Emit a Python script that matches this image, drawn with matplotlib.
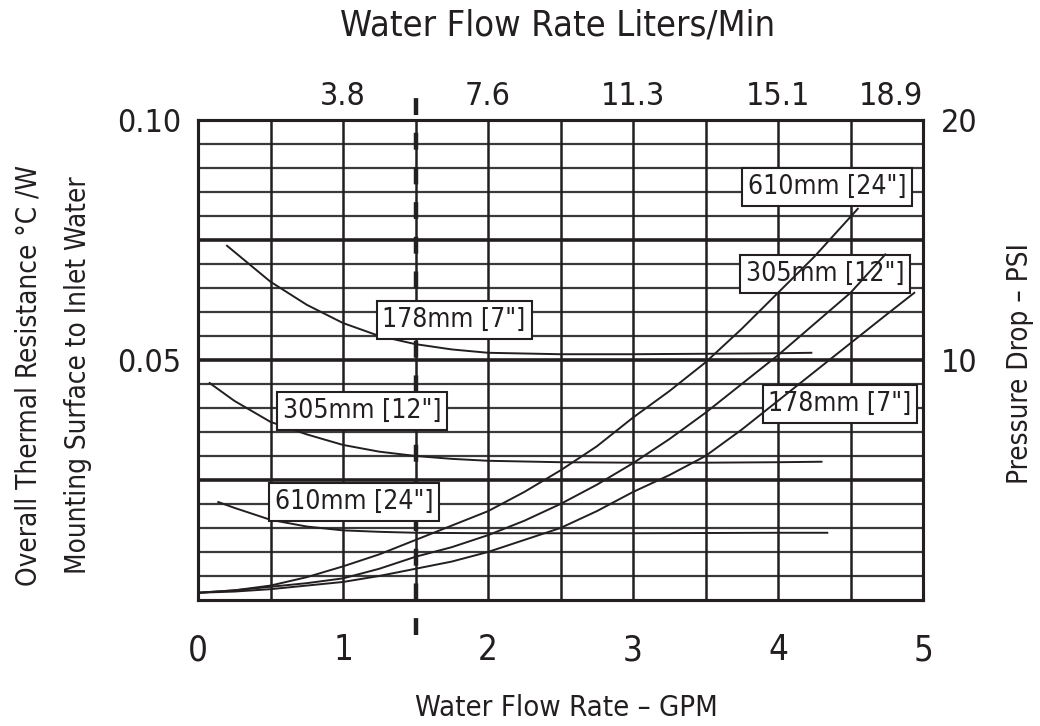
import matplotlib.pyplot as plt
import matplotlib.transforms as mtransforms

plt.rcParams["font.family"] = ["DejaVu Sans"]
plt.rcParams["font.stretch"] = "condensed"
INK = "#231f20"

# Thermal resistance curves (left axis, degC/W) vs flow (GPM)
r178_gpm = [0.2, 0.5, 0.75, 1.0, 1.25, 1.5, 1.75, 2.0, 2.5, 3.0, 3.5, 4.0, 4.23]
r178_val = [0.0738, 0.0663, 0.0615, 0.0577, 0.0550, 0.0533, 0.0522, 0.0515,
            0.0512, 0.0512, 0.0513, 0.0514, 0.0515]
r305_gpm = [0.08, 0.25, 0.5, 0.75, 1.0, 1.25, 1.5, 1.75, 2.0, 2.5, 3.0, 3.5, 4.0, 4.3]
r305_val = [0.0452, 0.0415, 0.0371, 0.0345, 0.0323, 0.0309, 0.0300, 0.0294,
            0.0290, 0.0287, 0.0286, 0.0286, 0.0287, 0.0288]
r610_gpm = [0.14, 0.25, 0.5, 0.75, 1.0, 1.25, 1.5, 2.0, 3.0, 4.0, 4.34]
r610_val = [0.0204, 0.0192, 0.0167, 0.0153, 0.0145, 0.0142, 0.0140, 0.0139,
            0.0139, 0.0140, 0.0140]

# Pressure drop curves (right axis, PSI) vs flow (GPM)
p610_gpm = [0, 0.25, 0.5, 0.75, 1.0, 1.25, 1.5, 1.75, 2.0, 2.25, 2.5, 2.75,
            3.0, 3.25, 3.5, 3.75, 4.0, 4.25, 4.55]
p610_val = [0.3, 0.4, 0.6, 0.95, 1.4, 1.9, 2.5, 3.1, 3.7, 4.5, 5.4, 6.4,
            7.6, 8.7, 9.9, 11.3, 12.8, 14.3, 16.3]
p305_gpm = [0, 0.25, 0.5, 0.75, 1.0, 1.25, 1.5, 1.75, 2.0, 2.25, 2.5, 2.75,
            3.0, 3.25, 3.5, 3.75, 4.0, 4.25, 4.5, 4.74]
p305_val = [0.3, 0.4, 0.55, 0.7, 0.9, 1.3, 1.8, 2.2, 2.7, 3.3, 4.0, 4.8,
            5.7, 6.7, 7.8, 9.0, 10.2, 11.5, 12.8, 14.4]
p178_gpm = [0, 0.25, 0.5, 0.75, 1.0, 1.25, 1.5, 1.75, 2.0, 2.25, 2.5, 2.75,
            3.0, 3.25, 3.5, 3.75, 4.0, 4.25, 4.5, 4.75, 4.94]
p178_val = [0.3, 0.35, 0.45, 0.6, 0.75, 1.0, 1.3, 1.6, 2.0, 2.5, 3.0, 3.7,
            4.5, 5.2, 6.0, 7.1, 8.3, 9.5, 10.7, 11.9, 12.8]

gpm_ticks = [0, 1, 2, 3, 4, 5]
lpm_labels = ["3.8", "7.6", "11.3", "15.1", "18.9"]
marked_flow = 1.5

fig = plt.figure(figsize=(10.4, 7.26), dpi=100)
ax = fig.add_axes([0.1904, 0.1736, 0.6971, 0.6611])
ax.set_xlim(0, 5)
ax.set_ylim(0, 0.10)
ax2 = ax.twinx()
ax2.set_ylim(0, 20)

# grid
for i in range(1, 20):
    y = i * 0.005
    heavy = i % 5 == 0
    ax.axhline(y, color=INK if heavy else "#3a3a3a", lw=2.6 if heavy else 1.6, zorder=1)
for i in range(1, 10):
    ax.axvline(i * 0.5, color=INK, lw=1.8, zorder=1)
for sp in list(ax.spines.values()) + list(ax2.spines.values()):
    sp.set_linewidth(2.2)
    sp.set_color(INK)

# curves
for xs, ys in [(r178_gpm, r178_val), (r305_gpm, r305_val), (r610_gpm, r610_val)]:
    ax.plot(xs, ys, color=INK, lw=1.4, zorder=3)
for xs, ys in [(p610_gpm, p610_val), (p305_gpm, p305_val), (p178_gpm, p178_val)]:
    ax2.plot(xs, ys, color=INK, lw=1.4, zorder=3)

# dashed marker line, running past the plot frame
trans = mtransforms.blended_transform_factory(ax.transData, ax.transAxes)
ax.plot([marked_flow, marked_flow], [-0.072, 1.067], transform=trans, clip_on=False,
        color=INK, lw=3.2, dashes=(3.8, 4.0), zorder=4)

# labels on curves
box = dict(boxstyle="square,pad=0.22", fc="white", ec=INK, lw=1.5)
curve_labels = [
    ("178mm [7\"]", 1.766, 0.0583),
    ("305mm [12\"]", 1.131, 0.0394),
    ("610mm [24\"]", 1.076, 0.0204),
    ("610mm [24\"]", 4.338, 0.0860),
    ("305mm [12\"]", 4.324, 0.0679),
    ("178mm [7\"]", 4.428, 0.0408),
]
for txt, x, y in curve_labels:
    ax.text(x, y, txt, ha="center", va="center", fontsize=19,
            color=INK, bbox=box, zorder=5)

# ticks
ax.set_xticks(gpm_ticks)
ax.set_xticklabels([str(v) for v in gpm_ticks], fontsize=25, color=INK)
ax.tick_params(axis="x", length=0, pad=24)
ax.set_yticks([0.05, 0.10])
ax.set_yticklabels(["0.05", "0.10"], fontsize=23, color=INK)
ax.tick_params(axis="y", length=0, pad=12)
ax2.set_yticks([10, 20])
ax2.set_yticklabels(["10", "20"], fontsize=23, color=INK)
ax2.tick_params(axis="y", length=0, pad=13)

top = ax.secondary_xaxis("top")
top.set_xticks(gpm_ticks[1:])
top.set_xticklabels(lpm_labels, fontsize=23, color=INK)
top.tick_params(length=0, pad=6)
top.spines["top"].set_visible(False)
top.get_xticklabels()[-1].set_ha("right")

# axis titles
fig.text(0.536, 0.965, "Water Flow Rate Liters/Min", ha="center", va="center",
         fontsize=26, color=INK)
fig.text(0.545, 0.025, "Water Flow Rate \u2013 GPM", ha="center", va="center",
         fontsize=21, color=INK)
fig.text(0.027, 0.483, "Overall Thermal Resistance \u00b0C /W", ha="center", va="center",
         rotation=90, fontsize=20, color=INK)
fig.text(0.075, 0.483, "Mounting Surface to Inlet Water", ha="center", va="center",
         rotation=90, fontsize=20, color=INK)
fig.text(0.981, 0.5, "Pressure Drop \u2013 PSI", ha="center", va="center",
         rotation=90, fontsize=20, color=INK)

fig.savefig("out.png", dpi=100)
